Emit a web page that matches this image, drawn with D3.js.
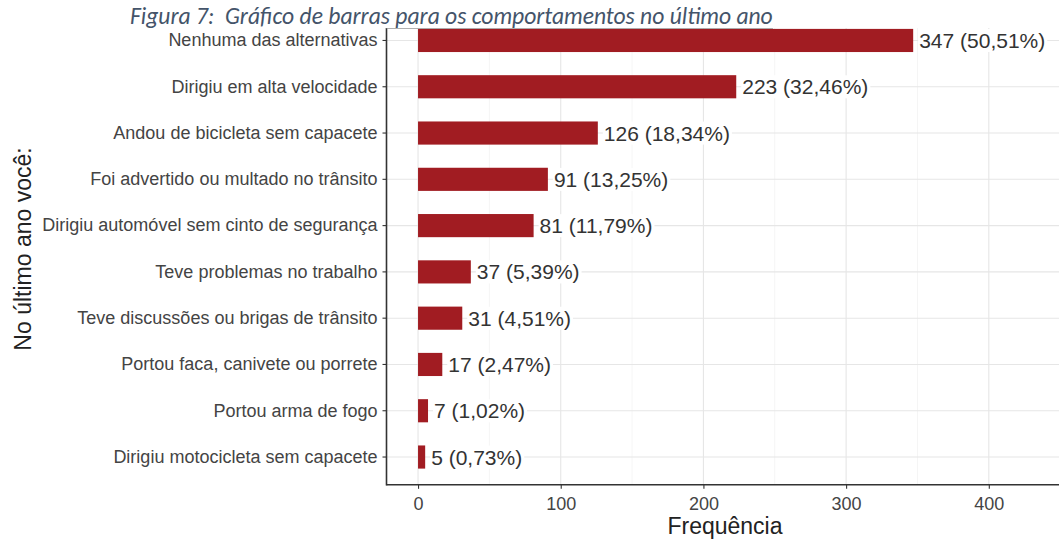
<!DOCTYPE html>
<html>
<head>
<meta charset="utf-8">
<script src="https://cdn.jsdelivr.net/npm/d3@7"></script>
<style>
	body { margin: 0; background: #fff; }
	svg { display: block; }
</style>
</head>
<body>
<div id="chart-area"></div>
<script>
const categories = [
	"Nenhuma das alternativas",
	"Dirigiu em alta velocidade",
	"Andou de bicicleta sem capacete",
	"Foi advertido ou multado no trânsito",
	"Dirigiu automóvel sem cinto de segurança",
	"Teve problemas no trabalho",
	"Teve discussões ou brigas de trânsito",
	"Portou faca, canivete ou porrete",
	"Portou arma de fogo",
	"Dirigiu motocicleta sem capacete",
];
const counts = [347, 223, 126, 91, 81, 37, 31, 17, 7, 5];
const percents = ["50,51", "32,46", "18,34", "13,25", "11,79", "5,39", "4,51", "2,47", "1,02", "0,73"];
const xTicks = [0, 100, 200, 300, 400];
const xMinor = [50, 150, 250, 350, 450];

const data = categories.map((c, i) => ({ cat: c, n: counts[i], pct: percents[i] }));

const FWIDTH = 1059,
	FHEIGHT = 542;
const PANEL = { LEFT: 386.5, RIGHT: 1063, TOP: 12.7, BOTTOM: 484.8 };

const svg = d3
	.select("#chart-area")
	.append("svg")
	.attr("width", FWIDTH)
	.attr("height", FHEIGHT);

const x = d3.scaleLinear().domain([-22.1, 452]).range([PANEL.LEFT, PANEL.RIGHT]);

const y = d3
	.scaleBand()
	.domain(categories)
	.range([PANEL.TOP, PANEL.BOTTOM])
	.paddingInner(0.5)
	.paddingOuter(0.35);

// grid
const grid = svg.append("g").attr("class", "grid");
grid.selectAll(".minor")
	.data(xMinor)
	.enter()
	.append("line")
	.attr("x1", (d) => x(d))
	.attr("x2", (d) => x(d))
	.attr("y1", PANEL.TOP)
	.attr("y2", PANEL.BOTTOM)
	.attr("stroke", "#f2f2f2")
	.attr("stroke-width", 0.8);
grid.selectAll(".major")
	.data(xTicks)
	.enter()
	.append("line")
	.attr("x1", (d) => x(d))
	.attr("x2", (d) => x(d))
	.attr("y1", PANEL.TOP)
	.attr("y2", PANEL.BOTTOM)
	.attr("stroke", "#e6e6e6")
	.attr("stroke-width", 1.1);
grid.selectAll(".hline")
	.data(categories)
	.enter()
	.append("line")
	.attr("x1", PANEL.LEFT)
	.attr("x2", PANEL.RIGHT)
	.attr("y1", (d) => y(d) + y.bandwidth() / 2)
	.attr("y2", (d) => y(d) + y.bandwidth() / 2)
	.attr("stroke", "#e6e6e6")
	.attr("stroke-width", 1.1);

// bars
svg.append("g")
	.selectAll("rect")
	.data(data)
	.enter()
	.append("rect")
	.attr("x", x(0))
	.attr("y", (d) => y(d.cat))
	.attr("width", (d) => x(d.n) - x(0))
	.attr("height", y.bandwidth())
	.attr("fill", "#a11c22");

// value labels with white background
const labels = svg
	.append("g")
	.selectAll("g")
	.data(data)
	.enter()
	.append("g")
	.attr("transform", (d) => `translate(${x(d.n) + 5}, ${y(d.cat) + y.bandwidth() / 2})`);

labels.append("rect").attr("fill", "#fff");
labels
	.append("text")
	.attr("x", 1)
	.attr("dy", "0.36em")
	.style("font-family", "'Liberation Sans', Arial, sans-serif")
	.style("font-size", "21px")
	.attr("fill", "#333")
	.text((d) => `${d.n} (${d.pct}%)`);
labels.each(function () {
	const bb = d3.select(this).select("text").node().getBBox();
	d3.select(this)
		.select("rect")
		.attr("x", bb.x - 1)
		.attr("y", bb.y)
		.attr("width", bb.width + 3)
		.attr("height", bb.height);
});

// axes
const yAxis = svg
	.append("g")
	.attr("transform", `translate(${PANEL.LEFT}, 0)`)
	.call(d3.axisLeft(y).tickSize(4).tickPadding(5).tickSizeOuter(0));
yAxis.select(".domain").remove();
yAxis.selectAll("text")
	.style("font-family", "'Liberation Sans', Arial, sans-serif")
	.style("font-size", "18px")
	.attr("fill", "#444");
yAxis.selectAll(".tick line").attr("stroke", "#333").attr("stroke-width", 1.1);

const xAxis = svg
	.append("g")
	.attr("transform", `translate(0, ${PANEL.BOTTOM})`)
	.call(d3.axisBottom(x).tickValues(xTicks).tickSize(4).tickPadding(8).tickSizeOuter(0));
xAxis.select(".domain").remove();
xAxis.selectAll("text")
	.style("font-family", "'Liberation Sans', Arial, sans-serif")
	.style("font-size", "18px")
	.attr("fill", "#444");
xAxis.selectAll(".tick line").attr("stroke", "#333").attr("stroke-width", 1.1);

// axis lines
svg.append("line")
	.attr("x1", PANEL.LEFT)
	.attr("x2", PANEL.LEFT)
	.attr("y1", PANEL.TOP)
	.attr("y2", PANEL.BOTTOM + 0.8)
	.attr("stroke", "#333")
	.attr("stroke-width", 1.6);
svg.append("line")
	.attr("x1", PANEL.LEFT)
	.attr("x2", PANEL.RIGHT)
	.attr("y1", PANEL.BOTTOM)
	.attr("y2", PANEL.BOTTOM)
	.attr("stroke", "#333")
	.attr("stroke-width", 1.6);

// axis titles
svg.append("text")
	.attr("x", 725)
	.attr("y", 534)
	.attr("text-anchor", "middle")
	.style("font-family", "'Liberation Sans', Arial, sans-serif")
	.style("font-size", "23px")
	.attr("fill", "#222")
	.text("Frequência");
svg.append("text")
	.attr("transform", "translate(31, 249) rotate(-90)")
	.attr("text-anchor", "middle")
	.style("font-family", "'Liberation Sans', Arial, sans-serif")
	.style("font-size", "23px")
	.attr("fill", "#222")
	.text("No último ano você:");

// caption box covering top of the figure
svg.append("rect")
	.attr("x", 120)
	.attr("y", 0)
	.attr("width", FWIDTH - 120)
	.attr("height", 28)
	.attr("fill", "#fff");
svg.append("line")
	.attr("x1", PANEL.LEFT)
	.attr("x2", 773)
	.attr("y1", 28.5)
	.attr("y2", 28.5)
	.attr("stroke", "#9a9a9a")
	.attr("stroke-width", 0.8);

const caption = svg
	.append("text")
	.attr("x", 130)
	.attr("y", 24)
	.attr("xml:space", "preserve")
	.style("white-space", "pre")
	.style("font-family", "Carlito, Calibri, Lato, 'Open Sans', sans-serif")
	.style("font-style", "italic")
	.style("font-size", "21px")
	.attr("fill", "#44546a")
	.text("Figura 7:  Gráfico de barras para os comportamentos no último ano");
// fit caption to its width in the figure
const capW = caption.node().getComputedTextLength();
caption.style("font-size", (21 * 643) / capW + "px");
</script>
</body>
</html>
